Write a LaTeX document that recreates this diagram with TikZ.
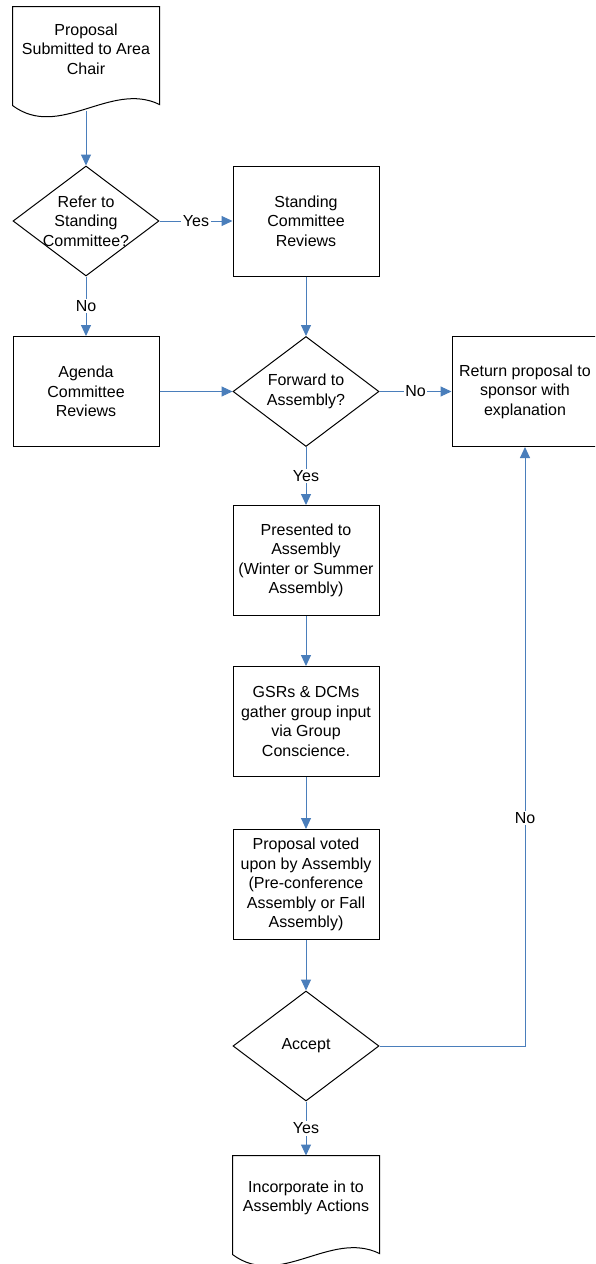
\documentclass[tikz,border=0pt]{standalone}
\usepackage{fontspec}
\setmainfont{Liberation Sans}
\usetikzlibrary{arrows.meta,shapes.geometric}
\definecolor{flowblue}{HTML}{4A7EBB}
\tikzset{
  fcnode/.style = {align=center, inner sep=0pt, text centered},
  fc_box/.style = {fcnode, rectangle, draw=black, minimum width=146pt,
    minimum height=110pt},% process box
  fc_dec/.style = {fcnode, diamond, draw=black, minimum width=146pt,
    minimum height=110pt, aspect=1.33},% decision, text set as a label
  fc_doc/.style = {fcnode, rectangle, minimum width=146pt,
    minimum height=84pt},% document, outline drawn after
  fc_arr/.style = {->, draw=flowblue},% connector
  fc_lbl/.style = {fill=white, inner sep=1.5pt}% yes / no
}

\begin{document}
\begin{tikzpicture}[x=1pt, y=-1pt, line width=1pt,
                    >={Triangle[length=11pt,width=10pt]},
                    font=\fontsize{16}{19.5}\selectfont]
  \clip (0,0) rectangle (595,1264);
  \node [fc_doc] (prop) at (86,49) {Proposal\\Submitted to Area\\Chair};
  \draw (prop.north west) -- (prop.north east) -- ([yshift=-13pt]prop.south east)
    .. controls +(-49,-24) and +(47,35) .. ([yshift=-14pt]prop.south west) -- cycle;
  \coordinate (propout) at ([yshift=-19pt]prop.south);

  \node [fc_dec, label={[align=center]center:Refer to\\Standing\\Committee?}]
    (refer) at (86,221) {};
  \node [fc_box] (stand) at (306,221) {Standing\\Committee\\Reviews};
  \node [fc_box] (agenda) at (86,391.5) {Agenda\\Committee\\Reviews};
  \node [fc_dec, label={[align=center]center:Forward to\\Assembly?}]
    (fwd) at (306,391.5) {};
  \node [fc_box] (ret) at (525,391.5) {Return proposal to\\sponsor with\\explanation};
  \node [fc_box] (pres) at (306,560.5)
    {Presented to\\Assembly\\(Winter or Summer\\Assembly)};
  \node [fc_box] (gsr) at (306,721.5)
    {GSRs \& DCMs\\gather group input\\via Group\\Conscience.};
  \node [fc_box] (vote) at (306,884.5)
    {Proposal voted\\upon by Assembly\\(Pre-conference\\Assembly or Fall\\Assembly)};
  \node [fc_dec, label={[align=center]center:Accept}] (acc) at (306,1046) {};
  \node [fc_doc] (inc) at (306,1198) {Incorporate in to\\Assembly Actions};
  \draw (inc.north west) -- (inc.north east) -- ([yshift=-13pt]inc.south east)
    .. controls +(-49,-24) and +(47,35) .. ([yshift=-14pt]inc.south west) -- cycle;

  \draw [fc_arr] (propout) -- (refer.north);
  \draw [fc_arr] (refer.east) -- node [fc_lbl] {Yes} (stand.west);
  \draw [fc_arr] (refer.south) -- node [fc_lbl] {No} (agenda.north);
  \draw [fc_arr] (stand.south) -- (fwd.north);
  \draw [fc_arr] (agenda.east) -- (fwd.west);
  \draw [fc_arr] (fwd.east) -- node [fc_lbl] {No} (ret.west);
  \draw [fc_arr] (fwd.south) -- node [fc_lbl] {Yes} (pres.north);
  \draw [fc_arr] (pres.south) -- (gsr.north);
  \draw [fc_arr] (gsr.south) -- (vote.north);
  \draw [fc_arr] (vote.south) -- (acc.north);
  \draw [fc_arr] (acc.east) -| node [fc_lbl, pos=0.69] {No} (ret.south);
  \draw [fc_arr] (acc.south) -- node [fc_lbl] {Yes} (inc.north);
\end{tikzpicture}
\end{document}
